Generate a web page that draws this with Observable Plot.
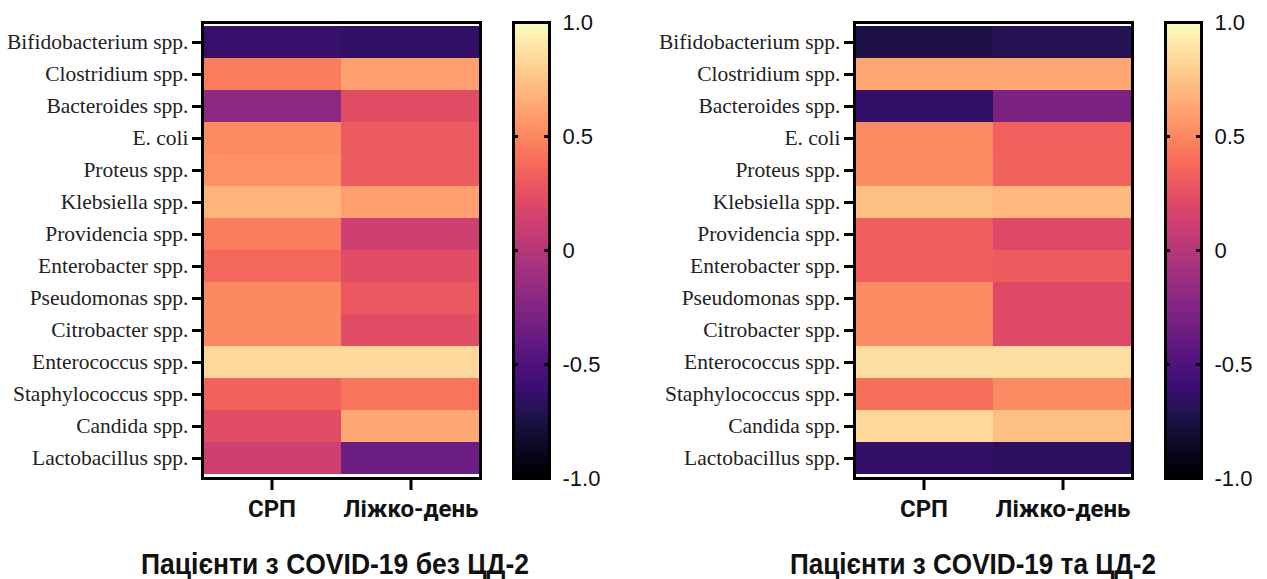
<!DOCTYPE html>
<html>
<head>
<meta charset="utf-8">
<script src="https://cdn.jsdelivr.net/npm/d3@7"></script>
<script src="https://cdn.jsdelivr.net/npm/@observablehq/plot@0.6"></script>
<style>
  html, body { margin: 0; padding: 0; background: #fff; }
  #chart { position: relative; width: 1267px; height: 579px; overflow: hidden; background: #fff; }
  #chart > * { position: absolute; }
  .title {
    font-family: "Liberation Sans", Arial, sans-serif;
    font-weight: bold; font-size: 30px; color: #111; white-space: nowrap;
    line-height: 1; transform-origin: 0 0;
  }
</style>
</head>
<body>
<div id="chart"></div>
<script>
// Taxa (rows) and correlation targets (columns)
const taxa = [
  "Bifidobacterium spp.", "Clostridium spp.", "Bacteroides spp.", "E. coli",
  "Proteus spp.", "Klebsiella spp.", "Providencia spp.", "Enterobacter spp.",
  "Pseudomonas spp.", "Citrobacter spp.", "Enterococcus spp.", "Staphylococcus spp.",
  "Candida spp.", "Lactobacillus spp."
];
const groups = ["СРП", "Ліжко-день"];

// Correlation coefficients, patients without type 2 diabetes
const noDmCrp = [-0.62, 0.46, -0.20, 0.51, 0.54, 0.68, 0.46, 0.36, 0.50, 0.50, 0.84, 0.34, 0.22, 0.11];
const noDmBed = [-0.64, 0.60, 0.22, 0.30, 0.30, 0.60, 0.11, 0.22, 0.29, 0.22, 0.84, 0.42, 0.64, -0.36];

// Correlation coefficients, patients with type 2 diabetes
const dmCrp = [-0.74, 0.63, -0.64, 0.52, 0.52, 0.73, 0.32, 0.32, 0.51, 0.51, 0.87, 0.40, 0.84, -0.64];
const dmBed = [-0.70, 0.63, -0.28, 0.33, 0.34, 0.71, 0.20, 0.31, 0.20, 0.20, 0.86, 0.51, 0.73, -0.67];

const colorbarTicks = [-1, -0.5, 0, 0.5, 1];
const titles = ["Пацієнти з COVID-19 без ЦД-2", "Пацієнти з COVID-19 та ЦД-2"];

const colorScale = {type: "linear", scheme: "magma", domain: [-1, 1]};
const H = 540, MT = 22, MB = 62;

function heatmap(crp, bed) {
  const data = taxa.flatMap((t, i) => [
    {taxon: t, group: groups[0], r: crp[i]},
    {taxon: t, group: groups[1], r: bed[i]}
  ]);
  return Plot.plot({
    width: 500, height: H,
    marginLeft: 202, marginRight: 20, marginTop: MT, marginBottom: MB,
    x: {domain: groups, padding: 0},
    y: {domain: taxa, padding: 0},
    color: colorScale,
    style: {background: "transparent", color: "#111"},
    marks: [
      Plot.cell(data, {x: "group", y: "taxon", fill: "r", inset: 0}),
      Plot.frame({stroke: "#000", strokeWidth: 3}),
      Plot.axisY({
        label: null, tickSize: 10, tickPadding: 4, strokeWidth: 3, stroke: "#000",
        fontSize: 21.5, fontFamily: "Liberation Serif, serif", fill: "#222"
      }),
      Plot.axisX({
        label: null, tickSize: 12, tickPadding: 9, strokeWidth: 3, stroke: "#000",
        fontSize: 24, fontWeight: "bold", fontFamily: "Roboto, sans-serif", fill: "#111"
      })
    ]
  });
}

function colorbar() {
  return Plot.plot({
    width: 120, height: H,
    marginLeft: 10, marginRight: 74, marginTop: MT, marginBottom: MB,
    x: {domain: [0, 1], axis: null},
    y: {domain: [-1, 1]},
    color: colorScale,
    style: {background: "transparent", color: "#111"},
    marks: [
      Plot.raster({x1: 0, x2: 1, y1: -1, y2: 1, width: 1, height: 256,
        fill: (x, y) => y, imageRendering: "auto"}),
      Plot.ruleY([-0.5, 0, 0.5], {x1: 0, x2: 0.14, stroke: "#000", strokeWidth: 3}),
      Plot.ruleY([-0.5, 0, 0.5], {x1: 0.86, x2: 1, stroke: "#000", strokeWidth: 3}),
      Plot.frame({stroke: "#000", strokeWidth: 3}),
      Plot.axisY(colorbarTicks, {
        anchor: "right", label: null, tickSize: 0, tickPadding: 13,
        tickFormat: d => d === 0 ? "0" : d.toFixed(1),
        fontSize: 22, fontFamily: "Liberation Sans, Arial, sans-serif", fill: "#111"
      })
    ]
  });
}

const chart = document.getElementById("chart");

function place(node, left, top) {
  node.style.left = left + "px";
  node.style.top = top + "px";
  chart.appendChild(node);
}

place(heatmap(noDmCrp, noDmBed), 0, 0);
place(colorbar(), 503, 0);
place(heatmap(dmCrp, dmBed), 652, 0);
place(colorbar(), 1155, 0);

// Panel titles, set in a condensed bold face (centre x, text width)
[[titles[0], 335, 388], [titles[1], 973, 366]].forEach(([text, cx, w]) => {
  const d = document.createElement("div");
  d.className = "title";
  d.textContent = text;
  place(d, 0, 549);
  const natural = d.getBoundingClientRect().width;
  const k = w / natural;
  d.style.left = (cx - w / 2) + "px";
  d.style.transform = `scaleX(${k})`;
});
</script>
</body>
</html>
